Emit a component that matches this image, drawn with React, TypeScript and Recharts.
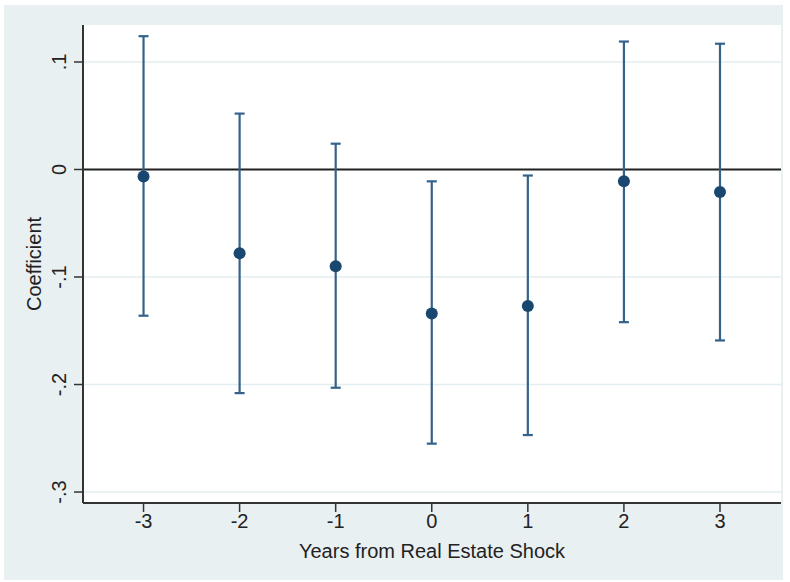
import { ComposedChart, Scatter, ErrorBar, XAxis, YAxis, CartesianGrid, ReferenceLine } from 'recharts';

const years = [-3, -2, -1, 0, 1, 2, 3];
const coef = [-0.0065, -0.078, -0.09, -0.134, -0.127, -0.011, -0.021];
const lower = [-0.136, -0.208, -0.203, -0.255, -0.247, -0.142, -0.159];
const upper = [0.124, 0.052, 0.024, -0.011, -0.0056, 0.119, 0.117];
const yTicks = [-0.3, -0.2, -0.1, 0, 0.1];
const yTickLabels = ['-.3', '-.2', '-.1', '0', '.1'];

const data = years.map((x, i) => ({
  x,
  y: coef[i],
  err: [coef[i] - lower[i], upper[i] - coef[i]],
}));

const FONT = '"Liberation Sans", Arial, sans-serif';
const NAVY = '#1a476f';

function YTick({ x, y, payload }: { x?: number; y?: number; payload?: { value: number } }) {
  const i = yTicks.findIndex((t) => Math.abs(t - (payload?.value ?? 99)) < 1e-9);
  const tx = (x ?? 0) - 6;
  return (
    <text
      x={tx}
      y={y}
      transform={`rotate(-90, ${tx}, ${y})`}
      textAnchor="middle"
      fontSize={20}
      fontFamily={FONT}
      fill="#222"
    >
      {i >= 0 ? yTickLabels[i] : ''}
    </text>
  );
}

function YLabel({ viewBox }: { viewBox?: { x: number; y: number; width: number; height: number } }) {
  const cy = viewBox ? viewBox.y + viewBox.height / 2 : 264;
  return (
    <text
      x={41}
      y={cy}
      transform={`rotate(-90, 41, ${cy})`}
      textAnchor="middle"
      fontSize={20}
      fontFamily={FONT}
      fill="#222"
    >
      Coefficient
    </text>
  );
}

export default function App() {
  return (
    <div style={{ position: 'absolute', left: 0, top: 0, width: 790, height: 582, background: '#fff' }}>
      <div
        style={{ position: 'absolute', left: 4, top: 5, width: 779, height: 575, background: '#e9f0f2' }}
      />
      <div style={{ position: 'absolute', left: 0, top: 0 }}>
        <ComposedChart
          width={790}
          height={582}
          data={data}
          margin={{ top: 25, right: 9, left: 0, bottom: 0 }}
        >
          <CartesianGrid
            fill="#ffffff"
            stroke="#e4eef0"
            strokeWidth={1.5}
            vertical={false}
            horizontalValues={yTicks}
          />
          <XAxis
            type="number"
            dataKey="x"
            domain={[-3.63, 3.635]}
            ticks={years}
            allowDataOverflow
            height={79}
            tickSize={9}
            tickMargin={2}
            axisLine={{ stroke: '#333', strokeWidth: 2 }}
            tickLine={{ stroke: '#333', strokeWidth: 1.5 }}
            tick={{ fontSize: 20, fontFamily: FONT, fill: '#222' }}
            label={{
              value: 'Years from Real Estate Shock',
              position: 'insideBottom',
              offset: 24,
              fontSize: 20,
              fontFamily: FONT,
              fill: '#222',
            }}
          />
          <YAxis
            type="number"
            dataKey="y"
            domain={[-0.3102, 0.1344]}
            ticks={yTicks}
            allowDataOverflow
            width={83}
            tickSize={9}
            tickMargin={2}
            axisLine={{ stroke: '#333', strokeWidth: 2 }}
            tickLine={{ stroke: '#333', strokeWidth: 1.5 }}
            tick={<YTick />}
            label={<YLabel />}
          />
          <ReferenceLine y={0} stroke="#222" strokeWidth={2} />
          <Scatter
            dataKey="y"
            fill={NAVY}
            isAnimationActive={false}
            shape={(p: { cx?: number; cy?: number }) => <circle cx={p.cx} cy={p.cy} r={6} fill={NAVY} />}
          >
            <ErrorBar
              dataKey="err"
              direction="y"
              width={5}
              stroke="#35628a"
              strokeWidth={2.2}
              isAnimationActive={false}
            />
          </Scatter>
        </ComposedChart>
      </div>
    </div>
  );
}
